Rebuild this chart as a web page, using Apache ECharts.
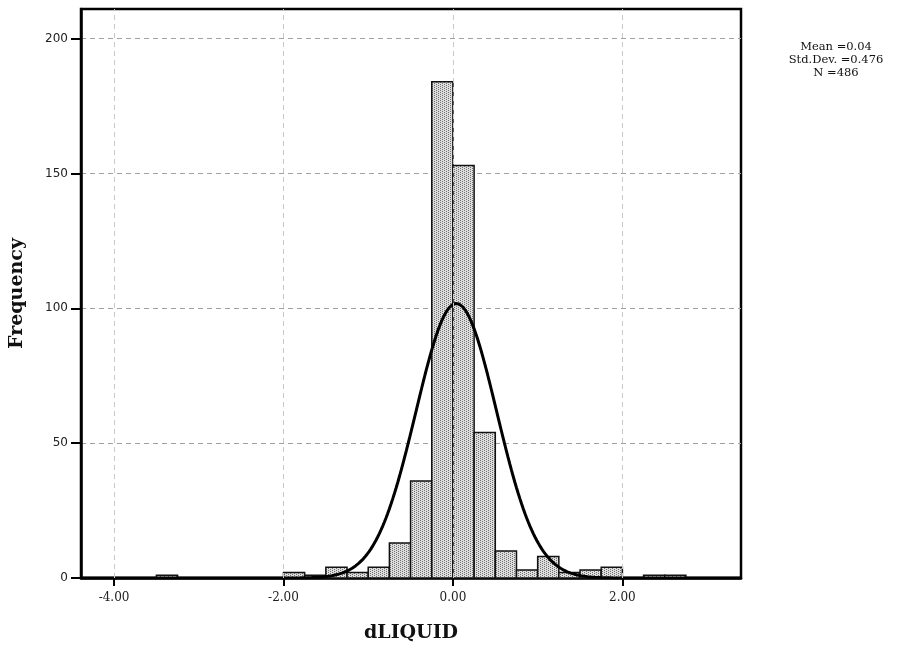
<!DOCTYPE html>
<html>
<head>
<meta charset="utf-8">
<script src="https://cdn.jsdelivr.net/npm/echarts@6/dist/echarts.min.js"></script>
<style>
  html, body { margin: 0; padding: 0; background: #fff; }
  #chart { width: 922px; height: 652px; }
</style>
</head>
<body>
<div id="chart"></div>
<script>
// Histogram of dLIQUID: lower bin edges and frequencies (bin width 0.25)
const binWidth = 0.25;
const binStarts = [-3.50, -2.00, -1.75, -1.50, -1.25, -1.00, -0.75, -0.50, -0.25, 0.00, 0.25, 0.50, 0.75, 1.00, 1.25, 1.50, 1.75, 2.25, 2.50];
const binCounts = [1, 2, 1, 4, 2, 4, 13, 36, 184, 153, 54, 10, 3, 8, 2, 3, 4, 1, 1];

// Summary statistics shown beside the plot
const statMean = 0.04;
const statStdDev = 0.476;
const statN = 486;
const statLines = ['Mean =0.04', 'Std.Dev. =0.476', 'N =486'];

// Axis ticks
const xTicks = [-4, -2, 0, 2];
const yTicks = [0, 50, 100, 150, 200];
const xMin = -4.39, xMax = 3.40, yMax = 211;

// Stippled fill for the bars
function makeStipple() {
  const c = document.createElement('canvas');
  c.width = 4; c.height = 2;
  const g = c.getContext('2d');
  g.fillStyle = '#dedede';
  g.fillRect(0, 0, 4, 2);
  g.fillStyle = '#6e6e6e';
  g.fillRect(0, 0, 1, 1);
  g.fillRect(2, 1, 1, 1);
  return c;
}
const stipple = { image: makeStipple(), repeat: 'repeat' };

const barData = binStarts.map((s, i) => [s, s + binWidth, binCounts[i]]);

// Fitted normal curve scaled to counts per bin
const curveData = [];
for (let x = xMin; x <= xMax + 1e-9; x += 0.02) {
  const z = (x - statMean) / statStdDev;
  const y = statN * binWidth / (statStdDev * Math.sqrt(2 * Math.PI)) * Math.exp(-0.5 * z * z);
  curveData.push([x, y]);
}

const chart = echarts.init(document.getElementById('chart'));
chart.setOption({
  animation: false,
  backgroundColor: '#fff',
  grid: {
    left: 81, right: 181, top: 9, bottom: 74,
    outerBoundsMode: 'none', containLabel: false,
    show: true, borderColor: '#000', borderWidth: 2.5, backgroundColor: 'transparent'
  },
  xAxis: {
    type: 'value', min: xMin, max: xMax,
    name: 'dLIQUID', nameLocation: 'middle', nameGap: 46,
    nameTextStyle: { fontFamily: 'DejaVu Serif', fontWeight: 'bold', fontSize: 19, color: '#111' },
    axisLine: { show: true, onZero: false, lineStyle: { color: '#000', width: 2.5 } },
    axisTick: { show: true, customValues: xTicks, length: 8, lineStyle: { color: '#000', width: 2 } },
    axisLabel: {
      customValues: xTicks, margin: 14,
      fontFamily: 'DejaVu Serif', fontSize: 12, color: '#222',
      formatter: v => v.toFixed(2)
    },
    splitLine: { show: false }
  },
  yAxis: {
    type: 'value', min: 0, max: yMax, interval: 50,
    name: 'Frequency', nameLocation: 'middle', nameGap: 54,
    nameTextStyle: { fontFamily: 'DejaVu Serif', fontWeight: 'bold', fontSize: 19, color: '#111' },
    axisLine: { show: true, onZero: false, lineStyle: { color: '#000', width: 2.5 } },
    axisTick: { show: true, customValues: yTicks, length: 10, lineStyle: { color: '#000', width: 2 } },
    axisLabel: {
      customValues: yTicks, margin: 13,
      fontFamily: 'DejaVu Sans', fontSize: 12, color: '#222'
    },
    splitLine: { show: true, lineStyle: { color: '#a0a0a0', type: [5, 4], width: 1 } }
  },
  graphic: statLines.map((t, i) => ({
    type: 'text',
    style: {
      text: t, x: 836, y: 47 + i * 13, align: 'center', verticalAlign: 'middle',
      font: '11.5px "DejaVu Serif"', fill: '#111'
    }
  })),
  series: [
    {
      type: 'line', data: [], z: 1, silent: true,
      markLine: {
        silent: true, symbol: 'none', animation: false,
        label: { show: false },
        lineStyle: { color: '#c8c8c8', type: [5, 4], width: 1 },
        data: xTicks.map(v => ({ xAxis: v }))
      }
    },
    {
      type: 'custom', z: 2, data: barData,
      encode: { x: [0, 1], y: 2 },
      renderItem: (params, api) => {
        const p0 = api.coord([api.value(0), api.value(2)]);
        const p1 = api.coord([api.value(1), 0]);
        return {
          type: 'rect',
          shape: { x: p0[0], y: p0[1], width: p1[0] - p0[0], height: p1[1] - p0[1] },
          style: { fill: stipple, stroke: '#111', lineWidth: 1.5 }
        };
      }
    },
    {
      type: 'line', z: 3, data: curveData, showSymbol: false, smooth: false,
      clip: true, silent: true,
      lineStyle: { color: '#000', width: 3 }
    }
  ]
});
</script>
</body>
</html>
